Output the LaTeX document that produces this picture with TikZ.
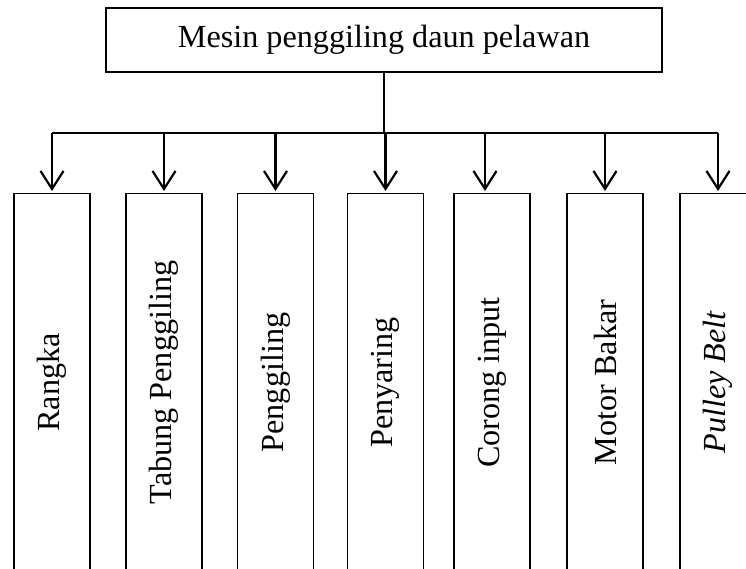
\documentclass[tikz,border=0pt]{standalone}
\usepackage{fontspec}
\setmainfont{Liberation Serif}
\usetikzlibrary{arrows.meta}

\begin{document}
\begin{tikzpicture}[x=1pt,y=-1pt,
  every node/.style={font=\fontsize{32.2}{37}\selectfont, inner sep=0pt},
  headbox/.style={draw, line width=1.3pt, minimum width=556pt, minimum height=64pt},
  partbox/.style={draw, line width=1.1pt, anchor=north, minimum width=76pt, minimum height=378pt},
  wire/.style={line width=2.2pt},
  feed/.style={line width=2.2pt, -{Straight Barb[length=18pt, width=23pt, line width=2.2pt]}, shorten >=2pt}]
  \useasboundingbox (0,0) rectangle (746,569);
  \clip (0,0) rectangle (746,569);

  % top-level unit
  \node[headbox] (top) at (384,40) {Mesin penggiling daun pelawan};

  % component boxes, open at the bottom edge
  \node[partbox] (c1) at (52,193)  {\rotatebox{90}{Rangka}};
  \node[partbox] (c2) at (164,193) {\rotatebox{90}{Tabung Penggiling}};
  \node[partbox] (c3) at (275.5,193) {\rotatebox{90}{Penggiling}};
  \node[partbox] (c4) at (385.5,193) {\rotatebox{90}{Penyaring}};
  \node[partbox] (c5) at (492,193) {\rotatebox{90}{Corong input}};
  \node[partbox] (c6) at (605,193) {\rotatebox{90}{Motor Bakar}};
  \node[partbox] (c7) at (718,193) {\rotatebox{90}{\itshape Pulley Belt}};

  % distribution bus
  \coordinate (bus) at (384,133);
  \draw[wire] (top.south) -- (bus);
  \draw[wire] (c1.north |- bus) -- (c7.north |- bus);

  % feeders
  \draw[feed] (c1.north |- bus) -- (c1.north);
  \draw[feed] (c2.north |- bus) -- (c2.north);
  \draw[feed] (c3.north |- bus) -- (c3.north);
  \draw[feed] (c4.north |- bus) -- (c4.north);
  \draw[feed] ([xshift=-7pt]c5.north |- bus) -- ([xshift=-7pt]c5.north);
  \draw[feed] (c6.north |- bus) -- (c6.north);
  \draw[feed] (c7.north |- bus) -- (c7.north);
\end{tikzpicture}
\end{document}
